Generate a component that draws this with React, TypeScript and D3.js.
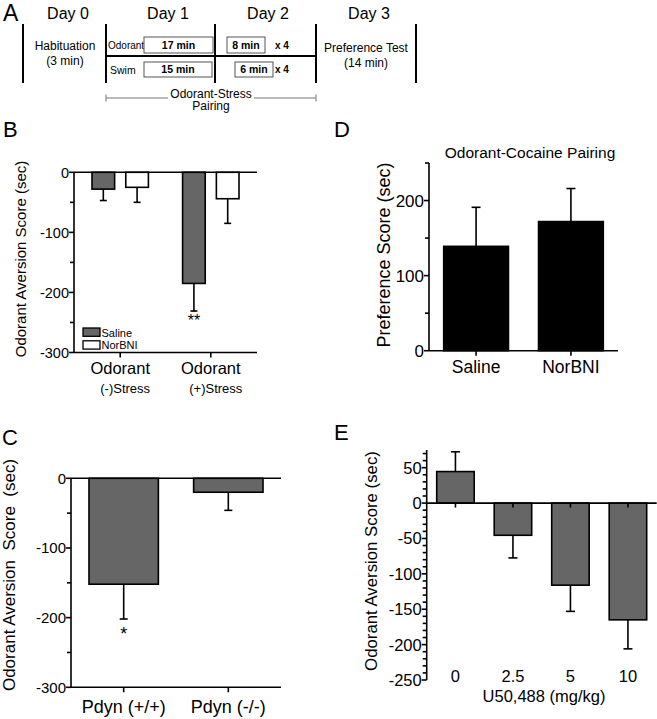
import React from "react";
import * as d3 from "d3";

const FONT = "'Liberation Sans', Arial, Helvetica, sans-serif";
const GRAY = "#666666";

// ---------- Panel A (protocol timeline) ----------
const aDays = ["Day 0", "Day 1", "Day 2", "Day 3"];
const aRows = ["Odorant", "Swim"];
const aDay1 = ["17 min", "15 min"];
const aDay2 = ["8 min", "6 min"];
const aRepeat = ["x 4", "x 4"];

// ---------- Panel B ----------
const bGroupMain = ["Odorant", "Odorant"];
const bGroupSub = ["(-)Stress", "(+)Stress"];
const bTreatments = ["Saline", "NorBNI"];
const bSaline = [-28, -185];
const bSalineSem = [19, 46];
const bNorBNI = [-25, -44];
const bNorBNISem = [25, 41];
const bYTicks = [0, -100, -200, -300];
const bYMinor = [-50, -150, -250];

// ---------- Panel C ----------
const cGenotypes = ["Pdyn (+/+)", "Pdyn (-/-)"];
const cValues = [-152, -20];
const cSem = [50, 26];
const cYTicks = [0, -100, -200, -300];
const cYMinor = [-50, -150, -250];

// ---------- Panel D ----------
const dGroups = ["Saline", "NorBNI"];
const dValues = [139, 172];
const dSem = [52, 44];
const dYTicks = [0, 100, 200];
const dYMinor = [50, 150, 250];

// ---------- Panel E ----------
const eDoses = ["0", "2.5", "5", "10"];
const eValues = [44.5, -45.5, -116, -165];
const eSem = [28, 32, 37, 41];
const eYTicks = [50, 0, -50, -100, -150, -200, -250];
const eYMinor = [70, 60, 40, 30, 20, 10, -10, -20, -30, -40, -60, -70, -80, -90, -110, -120, -130, -140, -160, -170, -180, -190, -210, -220, -230, -240];

const SW = 1.6;

function YAxis({ x, y, ticks, minor, fontSize, top, bottom }: any) {
  return (
    <g>
      <line x1={x} x2={x} y1={top} y2={bottom} stroke="#000" strokeWidth={SW} />
      {ticks.map((t: number) => (
        <g key={"t" + t}>
          <line x1={x - 5} x2={x} y1={y(t)} y2={y(t)} stroke="#000" strokeWidth={SW} />
          <text x={x - 5} y={y(t)} dy="0.36em" textAnchor="end" fontSize={fontSize} fontFamily={FONT}>
            {t}
          </text>
        </g>
      ))}
      {minor.map((t: number) => (
        <line key={"m" + t} x1={x - 4} x2={x} y1={y(t)} y2={y(t)} stroke="#000" strokeWidth={SW} />
      ))}
    </g>
  );
}

function ErrBar({ cx, y, v, sem, cap }: any) {
  const y0 = y(v);
  const y1 = y(v >= 0 ? v + sem : v - sem);
  return (
    <g stroke="#000" strokeWidth={SW}>
      <line x1={cx} x2={cx} y1={y0} y2={y1} />
      <line x1={cx - cap / 2} x2={cx + cap / 2} y1={y1} y2={y1} />
    </g>
  );
}

function PanelA() {
  const dayX = [68, 168, 268, 369];
  const vLines = [23, 106, 215, 316, 416];
  const rowY = [37, 62];
  const rowH = [16, 15];
  const d1 = [
    [144, 213],
    [144, 212],
  ];
  const d2 = [
    [227, 265],
    [235, 273],
  ];
  return (
    <g fontFamily={FONT}>
      <text x={3} y={21} fontSize={23}>A</text>
      {aDays.map((d, i) => (
        <text key={d} x={dayX[i]} y={18.5} fontSize={16} textAnchor="middle">
          {d}
        </text>
      ))}
      {vLines.map((x) => (
        <line key={x} x1={x} x2={x} y1={24} y2={83} stroke="#000" strokeWidth={2} />
      ))}
      <line x1={106} x2={316} y1={56} y2={56} stroke="#000" strokeWidth={2} />
      <text x={65} y={50} fontSize={12} textAnchor="middle">Habituation</text>
      <text x={65} y={65} fontSize={12} textAnchor="middle">(3 min)</text>
      <text x={366} y={52} fontSize={12} textAnchor="middle">Preference Test</text>
      <text x={366} y={67} fontSize={12} textAnchor="middle">(14 min)</text>
      {aRows.map((r, i) => (
        <g key={r}>
          <text x={i === 0 ? 108 : 110} y={rowY[i] + 11.5} fontSize={i === 0 ? 10 : 10.5}>
            {r}
          </text>
          <rect x={d1[i][0]} y={rowY[i]} width={d1[i][1] - d1[i][0]} height={rowH[i]} fill="#fff" stroke="#555" strokeWidth={1} />
          <text x={(d1[i][0] + d1[i][1]) / 2} y={rowY[i] + rowH[i] / 2} dy="0.36em" fontSize={10.5} fontWeight="bold" textAnchor="middle">
            {aDay1[i]}
          </text>
          <rect x={d2[i][0]} y={rowY[i]} width={d2[i][1] - d2[i][0]} height={rowH[i]} fill="#fff" stroke="#555" strokeWidth={1} />
          <text x={(d2[i][0] + d2[i][1]) / 2} y={rowY[i] + rowH[i] / 2} dy="0.36em" fontSize={10.5} fontWeight="bold" textAnchor="middle">
            {aDay2[i]}
          </text>
          <text x={275} y={rowY[i] + rowH[i] / 2} dy="0.36em" fontSize={10} fontWeight="bold">
            {aRepeat[i]}
          </text>
        </g>
      ))}
      <g stroke="#777" strokeWidth={1}>
        <line x1={106} x2={168} y1={98} y2={98} />
        <line x1={254} x2={316} y1={98} y2={98} />
        <line x1={106} x2={106} y1={94.5} y2={101.5} />
        <line x1={316} x2={316} y1={94.5} y2={101.5} />
      </g>
      <text x={211} y={97.5} fontSize={12} textAnchor="middle">Odorant-Stress</text>
      <text x={211} y={110} fontSize={12} textAnchor="middle">Pairing</text>
    </g>
  );
}

function PanelB() {
  const y = d3.scaleLinear().domain([-300, 0]).range([352.5, 172.3]);
  const x0 = d3.scalePoint<number>().domain([0, 1]).range([74, 257]).padding(0.51);
  const x1 = d3.scaleBand<string>().domain(bTreatments).range([-28.2, 28.2]).paddingInner(0.33);
  const series = [
    { name: "Saline", vals: bSaline, sem: bSalineSem, fill: GRAY },
    { name: "NorBNI", vals: bNorBNI, sem: bNorBNISem, fill: "#fff" },
  ];
  return (
    <g fontFamily={FONT}>
      <text x={3} y={137} fontSize={22}>B</text>
      {series.map((s) =>
        s.vals.map((v, i) => {
          const left = (x0(i) as number) + (x1(s.name) as number);
          const w = x1.bandwidth();
          return (
            <g key={s.name + i}>
              <ErrBar cx={left + w / 2} y={y} v={v} sem={s.sem[i]} cap={7} />
              <rect x={left} y={y(0)} width={w} height={y(v) - y(0)} fill={s.fill} stroke="#000" strokeWidth={SW} />
            </g>
          );
        })
      )}
      <line x1={74} x2={257} y1={y(0)} y2={y(0)} stroke="#000" strokeWidth={SW} />
      <line x1={74} x2={257} y1={y(-300)} y2={y(-300)} stroke="#000" strokeWidth={SW} />
      {[0, 1].map((i) => (
        <line key={i} x1={x0(i)} x2={x0(i)} y1={y(-300)} y2={y(-300) + 5} stroke="#000" strokeWidth={SW} />
      ))}
      <YAxis x={74} y={y} ticks={bYTicks} minor={bYMinor} fontSize={14.5} top={y(0)} bottom={y(-300)} />
      {[0, 1].map((i) => (
        <g key={"lab" + i}>
          <text x={x0(i)} y={374} fontSize={16.5} textAnchor="middle">{bGroupMain[i]}</text>
          <text x={(x0(i) as number) + 5} y={392.5} fontSize={13} textAnchor="middle">{bGroupSub[i]}</text>
        </g>
      ))}
      <text x={(x0(1) as number) + (x1("Saline") as number) + x1.bandwidth() / 2} y={326} fontSize={16} textAnchor="middle">**</text>
      {series.map((s, i) => (
        <g key={"leg" + s.name}>
          <rect x={83} y={328 + i * 12.8} width={17} height={8.3} fill={s.fill} stroke="#000" strokeWidth={1.3} />
          <text x={101.5} y={336.5 + i * 12.8} fontSize={11}>{s.name}</text>
        </g>
      ))}
      <text transform="translate(21,259) rotate(-90)" dy="0.35em" fontSize={15} textAnchor="middle">
        Odorant Aversion Score (sec)
      </text>
    </g>
  );
}

function PanelC() {
  const y = d3.scaleLinear().domain([-300, 0]).range([687.3, 478.3]);
  const x = d3.scaleBand<string>().domain(cGenotypes).range([71, 281]).paddingInner(0.337).paddingOuter(0.172);
  const w = x.bandwidth();
  return (
    <g fontFamily={FONT}>
      <text x={2} y={445} fontSize={22}>C</text>
      {cGenotypes.map((g, i) => (
        <g key={g}>
          <ErrBar cx={(x(g) as number) + w / 2} y={y} v={cValues[i]} sem={cSem[i]} cap={8} />
          <rect x={x(g)} y={y(0)} width={w} height={y(cValues[i]) - y(0)} fill={GRAY} stroke="#000" strokeWidth={SW} />
          <line x1={(x(g) as number) + w / 2} x2={(x(g) as number) + w / 2} y1={y(-300)} y2={y(-300) + 5} stroke="#000" strokeWidth={SW} />
          <text x={(x(g) as number) + w / 2} y={713} fontSize={18} textAnchor="middle">{g}</text>
        </g>
      ))}
      <line x1={71} x2={281} y1={y(0)} y2={y(0)} stroke="#000" strokeWidth={SW} />
      <line x1={71} x2={281} y1={y(-300)} y2={y(-300)} stroke="#000" strokeWidth={SW} />
      <YAxis x={71} y={y} ticks={cYTicks} minor={cYMinor} fontSize={15} top={y(0)} bottom={y(-300)} />
      <text x={(x(cGenotypes[0]) as number) + w / 2} y={640} fontSize={18} textAnchor="middle">*</text>
      <text transform="translate(9,575) rotate(-90)" dy="0.35em" fontSize={17} textAnchor="middle" style={{ whiteSpace: "pre" }}>
        {"Odorant Aversion  Score  (sec)"}
      </text>
    </g>
  );
}

function PanelD() {
  const y = d3.scaleLinear().domain([0, 250]).range([350.7, 163]);
  const x = d3.scaleBand<string>().domain(dGroups).range([429, 618]).paddingInner(0.317).paddingOuter(0.155);
  const w = x.bandwidth();
  return (
    <g fontFamily={FONT}>
      <text x={334} y={137} fontSize={22}>D</text>
      <text x={530} y={158.3} fontSize={15.5} textAnchor="middle">Odorant-Cocaine Pairing</text>
      {dGroups.map((g, i) => (
        <g key={g}>
          <ErrBar cx={(x(g) as number) + w / 2} y={y} v={dValues[i]} sem={dSem[i]} cap={9} />
          <rect x={x(g)} y={y(dValues[i])} width={w} height={y(0) - y(dValues[i])} fill="#000" stroke="#000" strokeWidth={SW} />
          <line x1={(x(g) as number) + w / 2} x2={(x(g) as number) + w / 2} y1={y(0)} y2={y(0) + 5} stroke="#000" strokeWidth={SW} />
          <text x={(x(g) as number) + w / 2} y={373.3} fontSize={17.5} textAnchor="middle">{g}</text>
        </g>
      ))}
      <line x1={429} x2={618} y1={y(0)} y2={y(0)} stroke="#000" strokeWidth={SW} />
      <YAxis x={429} y={y} ticks={dYTicks} minor={dYMinor} fontSize={17} top={y(250)} bottom={y(0)} />
      <text transform="translate(384,255) rotate(-90)" dy="0.35em" fontSize={18} textAnchor="middle">
        Preference Score (sec)
      </text>
    </g>
  );
}

function PanelE() {
  const y = d3.scaleLinear().domain([-250, 75]).range([680, 450]);
  const x = d3.scaleBand<string>().domain(eDoses).range([426.7, 656.7]).paddingInner(0.348).paddingOuter(0.174);
  const w = x.bandwidth();
  return (
    <g fontFamily={FONT}>
      <text x={334} y={440} fontSize={22}>E</text>
      {eDoses.map((g, i) => {
        const v = eValues[i];
        return (
          <g key={g}>
            <ErrBar cx={(x(g) as number) + w / 2} y={y} v={v} sem={eSem[i]} cap={9} />
            <rect x={x(g)} y={Math.min(y(v), y(0))} width={w} height={Math.abs(y(v) - y(0))} fill={GRAY} stroke="#000" strokeWidth={SW} />
            <line x1={(x(g) as number) + w / 2} x2={(x(g) as number) + w / 2} y1={y(0)} y2={y(0) + 4.5} stroke="#000" strokeWidth={SW} />
            <text x={(x(g) as number) + w / 2} y={681.5} fontSize={16.5} textAnchor="middle">{g}</text>
          </g>
        );
      })}
      <line x1={426.7} x2={656.7} y1={y(0)} y2={y(0)} stroke="#000" strokeWidth={SW} />
      <YAxis x={426.7} y={y} ticks={eYTicks} minor={eYMinor} fontSize={16.5} top={y(75)} bottom={y(-250)} />
      <text x={544} y={701.5} fontSize={16.5} textAnchor="middle">U50,488 (mg/kg)</text>
      <text transform="translate(371,561) rotate(-90)" dy="0.35em" fontSize={16.8} textAnchor="middle">
        Odorant Aversion Score (sec)
      </text>
    </g>
  );
}

export default function App() {
  return (
    <svg
      width={657}
      height={719}
      viewBox="0 0 657 719"
      style={{ position: "absolute", left: 0, top: 0, display: "block", background: "#fff" }}
    >
      <rect x={0} y={0} width={657} height={719} fill="#fff" />
      <PanelA />
      <PanelB />
      <PanelC />
      <PanelD />
      <PanelE />
    </svg>
  );
}
